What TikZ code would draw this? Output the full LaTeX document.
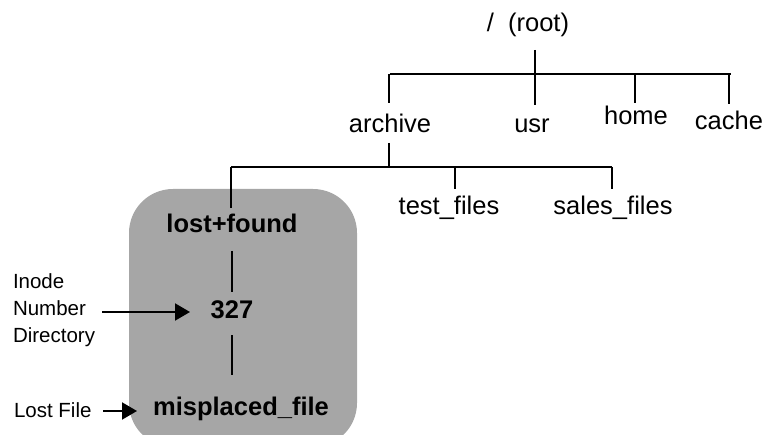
\documentclass[tikz,border=0pt]{standalone}
\usepackage{fontspec}
\setmainfont{Liberation Sans}
\usetikzlibrary{arrows.meta}

\begin{document}
\begin{tikzpicture}[x=1pt, y=-1pt, line width=2pt,
  dir/.style={anchor=base, inner sep=0pt, font=\fontsize{25.5}{30}\selectfont},
  lost/.style={anchor=base, inner sep=0pt, font=\fontsize{25.5}{30}\selectfont\bfseries},
  note/.style={anchor=base west, inner sep=0pt, align=left, font=\fontsize{20.5}{27}\selectfont},
  pointer/.style={-{Triangle[length=15pt,width=17pt]}}]
\useasboundingbox (0,0) rectangle (773,435);
\clip (0,0) rectangle (773,435);
% shaded lost+found area
\node [fill={rgb,255:red,166;green,166;blue,166}, rounded corners=44pt, minimum width=228pt, minimum height=258pt, inner sep=0pt] (lfbox) at (243,318) {};
% directory names
\node [dir] (root) at (528,32) {/\ \ (root)};
\node [dir] (archive) at (390,133) {archive};
\node [dir] (usr) at (532,133) {usr};
\node [dir] (home) at (636,125) {home};
\node [dir] (cache) at (729,130) {cache};
\node [dir] (test) at (449,215) {test\_files};
\node [dir] (sales) at (613,215) {sales\_files};
\node [lost] (lf) at (232,233) {lost+found};
\node [lost] (inode) at (232,319) {327};
\node [lost] (misplaced) at (241,415) {misplaced\_file};
\node [note] (inodenote) at (12,342) {Inode\\Number\\Directory};
\node [note] (lostnote) at (13,417) {Lost File};
% junctions of the tree
\coordinate (top1) at (535,50);
\coordinate (bus1) at (535,74);
\coordinate (top2) at (389,143);
\coordinate (bus2) at (389,167);
% first level
\draw (top1) -- (535,105);
\draw (390,74) -- (731,74);
\draw (389,74) -- (389,103);
\draw (635,74) -- (635,103);
\draw (729,74) -- (729,104);
% second level
\draw (top2) -- (bus2);
\draw (231,167) -- (612,167);
\draw (231,167) -- (231,208);
\draw (455,167) -- (455,189);
\draw (612,167) -- (612,189);
% inside the box
\draw (232,251) -- (232,292);
\draw (232,335) -- (232,375);
% labels pointing in
\draw [pointer] (102,312) -- (190,312);
\draw [pointer] (103,411) -- (137,411);
\end{tikzpicture}
\end{document}
